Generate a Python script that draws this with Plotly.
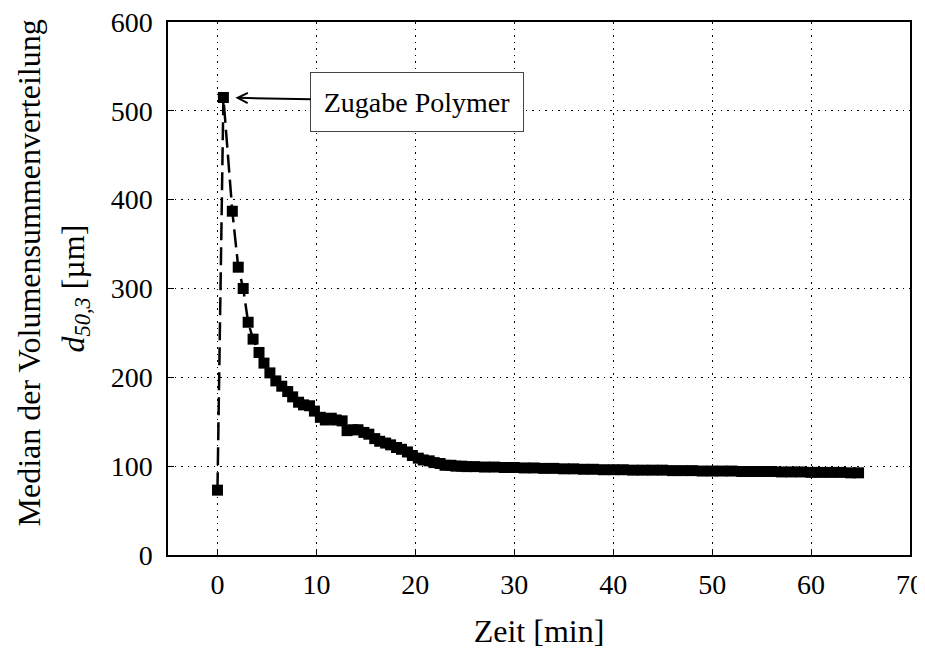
import plotly.graph_objects as go

# Zeit [min]
zeit = [0.0, 0.6, 1.5, 2.1, 2.6, 3.1, 3.6, 4.2, 4.7, 5.3, 5.9, 6.5, 7.1, 7.6, 8.2, 8.7,
        9.3, 9.8, 10.4, 10.9, 11.5, 12.0, 12.6, 13.1, 13.7, 14.2, 14.8, 15.3, 15.9,
        16.4, 17.0, 17.5, 18.1, 18.6, 19.2, 19.7, 20.3, 20.8, 21.4, 21.9, 22.5, 23.0,
        23.6, 24.1, 24.7, 25.2, 26.0, 27.0, 28.0, 29.0, 30.0, 31.0, 32.0, 33.0, 34.0,
        35.0, 36.0, 37.0, 38.0, 39.0, 40.0, 41.0, 42.0, 43.0, 44.0, 45.0, 46.0, 47.0,
        48.0, 49.0, 50.0, 51.0, 52.0, 53.0, 54.0, 55.0, 56.0, 57.0, 58.0, 59.0, 60.0,
        61.0, 62.0, 63.0, 64.0, 64.8]
# d50,3 [µm]
d503 = [73, 515, 387, 324, 300, 262, 243, 228, 216, 205, 196, 190, 184, 178, 172, 169,
        168, 162, 155, 152, 154, 152, 151, 140, 141, 141, 138, 136, 131,
        128, 126, 124, 121, 119, 116, 112, 109, 107, 106, 104, 103, 101,
        101, 100, 100, 99.5, 99.5, 99, 99, 98.5, 98.5, 98, 98, 97.5, 97.5,
        97, 97, 96.5, 96.5, 96, 96, 96, 95.5, 95.5, 95.5, 95.5, 95, 95,
        95, 94.5, 94.5, 94.5, 94.5, 94, 94, 94, 94, 93.5, 93.5, 93.5, 93,
        93, 93, 93, 92.5, 92.5]

x_ticks = [0, 10, 20, 30, 40, 50, 60, 70]
y_ticks = [0, 100, 200, 300, 400, 500, 600]

y_title_1 = "Median der Volumensummenverteilung"
y_title_2 = "<i>d</i><sub><i>50,3</i></sub> [µm]"

FONT = "Times New Roman"

fig = go.Figure()
fig.add_trace(go.Scatter(
    x=zeit, y=d503, mode="lines+markers",
    line=dict(color="black", width=2.5, dash="18px,7px"),
    marker=dict(symbol="square", size=11, color="black"),
    showlegend=False,
))

axis_common = dict(
    showline=True, linecolor="black", linewidth=1.5, mirror=True,
    ticks="inside", ticklen=6, tickwidth=1.2, tickcolor="black",
    showgrid=True, gridcolor="black", gridwidth=1, griddash="1.5px,5px",
    zeroline=False, automargin=False, ticklabeloverflow="allow",
    tickfont=dict(family=FONT, size=28, color="black"),
)

fig.update_xaxes(
    range=[-5, 70], tickvals=x_ticks, ticklabelstandoff=4,
    title=dict(text="Zeit [min]", font=dict(family=FONT, size=32, color="black"), standoff=22),
    **axis_common,
)
fig.update_yaxes(
    range=[0, 600], tickvals=y_ticks, ticklabelstandoff=8,
    **axis_common,
)

# y-axis title, two lines
fig.add_annotation(
    x=0, y=0.5, xref="paper", yref="paper", xshift=-140, yshift=15,
    text=y_title_1, textangle=-90, showarrow=False,
    xanchor="center", yanchor="middle",
    font=dict(family=FONT, size=32, color="black"),
)
fig.add_annotation(
    x=0, y=0.5, xref="paper", yref="paper", xshift=-93, yshift=0,
    text=y_title_2, textangle=-90, showarrow=False,
    xanchor="center", yanchor="middle",
    font=dict(family=FONT, size=32, color="black"),
)

fig.add_annotation(
    x=0.6, y=515, xref="x", yref="y",
    text="Zugabe Polymer",
    font=dict(family=FONT, size=28, color="black"),
    showarrow=True, arrowhead=5, arrowsize=1, arrowwidth=2, arrowcolor="black",
    ax=194, ay=4, standoff=12,
    bordercolor="#444444", borderwidth=1, borderpad=6, bgcolor="white",
    width=200, height=46,
)

fig.update_layout(
    width=917, height=641,
    margin=dict(l=160, r=15, t=14, b=94, autoexpand=False),
    paper_bgcolor="white", plot_bgcolor="white",
    font=dict(family=FONT, color="black"),
)

fig.write_html("out.html")
